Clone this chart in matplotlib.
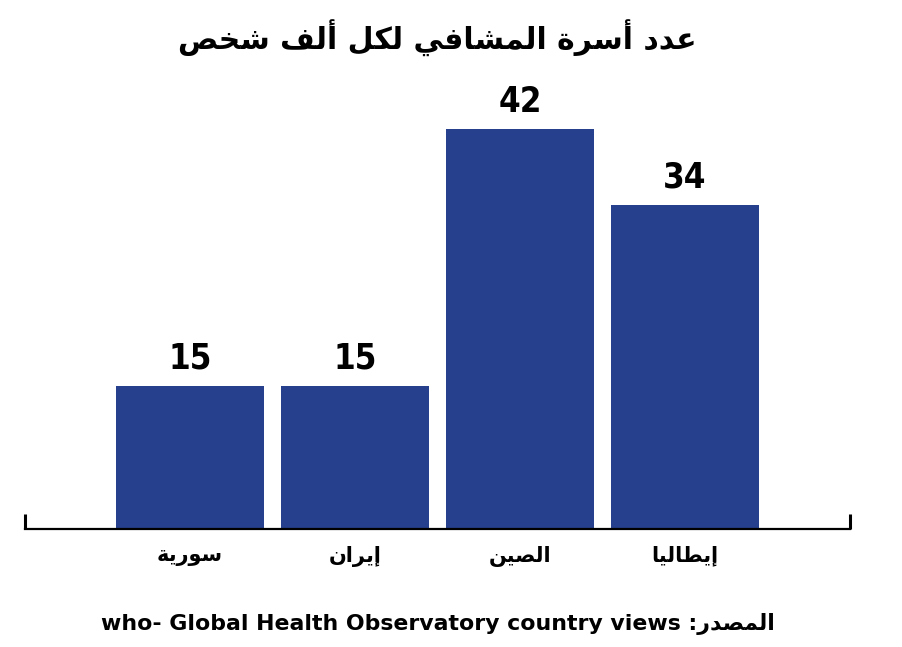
import matplotlib
matplotlib.use('Agg')
import matplotlib.pyplot as plt

# data
countries = ['سورية', 'إيران', 'الصين', 'إيطاليا']
beds = [15, 15, 42, 34]
title = 'عدد أسرة المشافي لكل ألف شخص'
source_label = 'المصدر'
source_name = 'who- Global Health Observatory country views'

BAR_COLOR = '#26408d'

# arabic presentation forms: isolated, final, initial, medial
FORMS = {
    'ا': ('\uFE8D', '\uFE8E'),
    'أ': ('\uFE83', '\uFE84'),
    'إ': ('\uFE87', '\uFE88'),
    'ة': ('\uFE93', '\uFE94'),
    'د': ('\uFEA9', '\uFEAA'),
    'ر': ('\uFEAD', '\uFEAE'),
    'و': ('\uFEED', '\uFEEE'),
    'خ': ('\uFEA5', '\uFEA6', '\uFEA7', '\uFEA8'),
    'س': ('\uFEB1', '\uFEB2', '\uFEB3', '\uFEB4'),
    'ش': ('\uFEB5', '\uFEB6', '\uFEB7', '\uFEB8'),
    'ص': ('\uFEB9', '\uFEBA', '\uFEBB', '\uFEBC'),
    'ط': ('\uFEC1', '\uFEC2', '\uFEC3', '\uFEC4'),
    'ع': ('\uFEC9', '\uFECA', '\uFECB', '\uFECC'),
    'ف': ('\uFED1', '\uFED2', '\uFED3', '\uFED4'),
    'ك': ('\uFED9', '\uFEDA', '\uFEDB', '\uFEDC'),
    'ل': ('\uFEDD', '\uFEDE', '\uFEDF', '\uFEE0'),
    'م': ('\uFEE1', '\uFEE2', '\uFEE3', '\uFEE4'),
    'ن': ('\uFEE5', '\uFEE6', '\uFEE7', '\uFEE8'),
    'ي': ('\uFEF1', '\uFEF2', '\uFEF3', '\uFEF4'),
}


def shape(text):
    '''join arabic letters and put them in visual (left to right) order'''
    out = []
    for i, ch in enumerate(text):
        if ch not in FORMS:
            out.append(ch)
            continue
        prev = text[i-1] if i > 0 else ''
        nxt = text[i+1] if i + 1 < len(text) else ''
        join_prev = prev in FORMS and len(FORMS[prev]) == 4
        join_next = len(FORMS[ch]) == 4 and nxt in FORMS
        f = FORMS[ch]
        if join_prev and join_next:
            out.append(f[3])
        elif join_prev:
            out.append(f[1])
        elif join_next:
            out.append(f[2])
        else:
            out.append(f[0])
    return ''.join(reversed(out))


W, H = 903, 647
fig = plt.figure(figsize=(W/100, H/100), dpi=100)
base = 529
top = 100
ax = fig.add_axes([25/W, 1 - base/H, 825/W, (base - top)/H])

x = list(range(len(countries)))
ax.bar(x, beds, width=148/165, color=BAR_COLOR, zorder=1)
ax.set_xlim(-1, 4)
ax.set_ylim(0, (base - top)/9.52)

for xi, v in zip(x, beds):
    ax.text(xi, v + 1.1, str(v), ha='center', va='bottom', fontsize=25,
            fontweight='bold', fontstretch='condensed',
            family='DejaVu Sans', color='black')

for s in ['top', 'left', 'right']:
    ax.spines[s].set_visible(False)
ax.spines['bottom'].set_linewidth(1.6)
ax.spines['bottom'].set_zorder(2)
ax.set_yticks([])
ax.set_xticks(x, [shape(c) for c in countries], fontsize=15,
              fontweight='bold', family='DejaVu Sans')
ax.tick_params(axis='x', which='major', length=0, pad=12)
ax.set_xticks([-1, 4], minor=True)
ax.tick_params(axis='x', which='minor', direction='in', length=11, width=2.2)

fig.text(437/W, 1 - 38/H, shape(title), ha='center', va='center',
         fontsize=21.5, fontweight='bold', family='DejaVu Sans')
fig.text(438/W, 1 - 624/H, source_name + ' :' + shape(source_label),
         ha='center', va='center', fontsize=15.8, fontweight='bold',
         family='DejaVu Sans')

fig.savefig('out.png', dpi=100)
